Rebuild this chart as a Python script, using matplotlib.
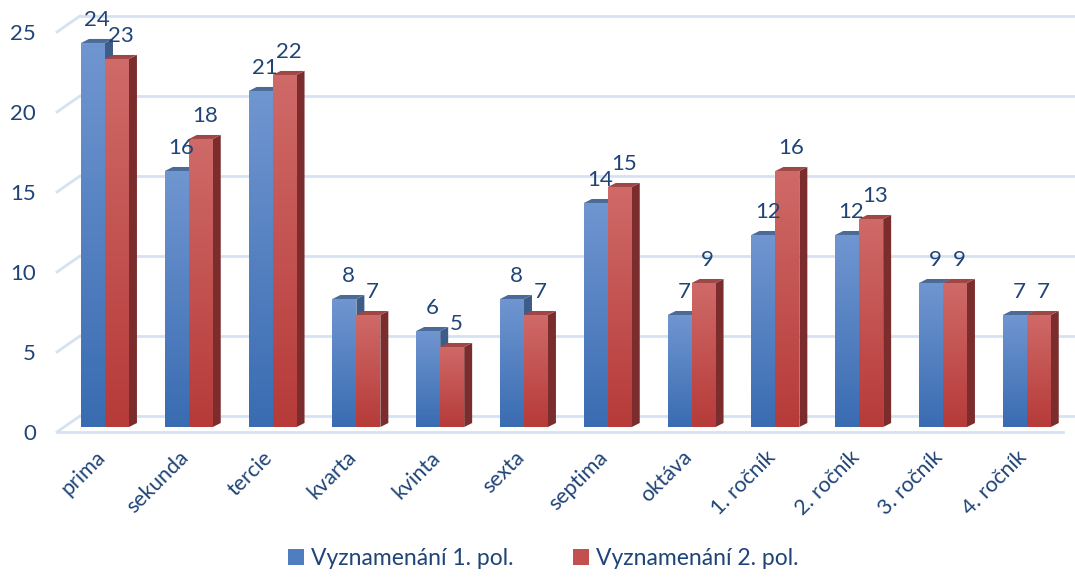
"""Vyznamenání per class, 1st vs 2nd half-year (Excel-style 3D columns)."""

import matplotlib
matplotlib.use("Agg")
import matplotlib.pyplot as plt
import numpy as np
from matplotlib.patches import Patch, Polygon, Rectangle

# ── data ──────────────────────────────────────────────────────────────────

categories = ["prima", "sekunda", "tercie", "kvarta", "kvinta", "sexta",
              "septima", "oktáva", "1. ročník", "2. ročník", "3. ročník", "4. ročník"]
pol1 = [24, 16, 21, 8, 6, 8, 14, 7, 12, 12, 9, 7]
pol2 = [23, 18, 22, 7, 5, 7, 15, 9, 16, 13, 9, 7]
series_names = ["Vyznamenání 1. pol.", "Vyznamenání 2. pol."]
yticks = [0, 5, 10, 15, 20, 25]

# ── style ─────────────────────────────────────────────────────────────────

plt.rcParams["font.family"] = ["Lato", "DejaVu Sans"]
TEXT = "#1F4477"
GRID = "#D6E2F2"
BLUE = {"top": "#7096D0", "bottom": "#3A6CB2", "cap": "#4A6A9A", "side": "#3E5C88"}
RED = {"top": "#CF6A68", "bottom": "#B63B39", "cap": "#A04644", "side": "#7A2D2C"}

W = 0.286            # bar width (group units)
DX, DY = 0.095, 0.25  # bar depth offset
PDX, PDY = 0.2745, 1.0  # wall depth offset
FRONT = -0.3125      # floor front edge relative to bar front
X0, X1 = -0.573, 11.575

fig = plt.figure(figsize=(10.75, 5.79), dpi=100)
ax = fig.add_axes([57 / 1075, 1 - 432 / 579, 1 - 57 / 1075, (432 - 10) / 579])
ax.set_xlim(X0, X1)
ax.set_ylim(FRONT, 26.06)
for s in ax.spines.values():
    s.set_visible(False)

# ── walls / gridlines ─────────────────────────────────────────────────────

for v in yticks:
    yb = v + FRONT + PDY
    ax.plot([X0 + PDX, X1], [yb, yb], color=GRID, lw=2, zorder=1, clip_on=False)
    ax.plot([X0, X0 + PDX], [v + FRONT, yb], color=GRID, lw=2, zorder=1, clip_on=False)
floor_right = 11.43
ax.plot([X0, floor_right], [FRONT, FRONT], color=GRID, lw=2, zorder=1, clip_on=False)


def gradient_bar(x0, v, cols, z):
    grad = np.linspace(0, 1, 64).reshape(-1, 1)
    c_top = np.array(matplotlib.colors.to_rgb(cols["top"]))
    c_bot = np.array(matplotlib.colors.to_rgb(cols["bottom"]))
    img = c_bot + (c_top - c_bot) * grad[..., None]
    rect = Rectangle((x0, 0), W, v, facecolor="none", edgecolor="none")
    ax.add_patch(rect)
    im = ax.imshow(img, extent=(x0, x0 + W, 0, v), origin="lower",
                   aspect="auto", zorder=z, interpolation="bilinear")
    im.set_clip_path(rect)


def bar3d(x0, v, cols, z):
    x1 = x0 + W
    side = Polygon([(x1, 0), (x1, v), (x1 + DX, v + DY), (x1 + DX, DY)],
                   facecolor=cols["side"], edgecolor="none", zorder=z)
    cap = Polygon([(x0, v), (x1, v), (x1 + DX, v + DY), (x0 + DX, v + DY)],
                  facecolor=cols["cap"], edgecolor="none", zorder=z)
    ax.add_patch(side)
    ax.add_patch(cap)
    gradient_bar(x0, v, cols, z + 0.1)


xs = np.arange(len(categories))
for i, (a, b) in enumerate(zip(pol1, pol2)):
    bar3d(xs[i] - W, a, BLUE, 3)
    bar3d(xs[i], b, RED, 4)
    ax.text(xs[i] - W / 2 + 0.05, a + 0.8, str(a), ha="center", va="bottom",
            fontsize=16, color=TEXT, zorder=6)
    ax.text(xs[i] + W / 2 + 0.05, b + 0.8, str(b), ha="center", va="bottom",
            fontsize=16, color=TEXT, zorder=6)

ax.set_xlim(X0, X1)
ax.set_ylim(FRONT, 26.06)

# ── axes labels ───────────────────────────────────────────────────────────

ax.set_yticks([v + FRONT for v in yticks], [str(v) for v in yticks])
ax.set_xticks(xs - 0.12, categories)
ax.tick_params(axis="y", length=0, pad=15, labelsize=16, labelcolor=TEXT)
ax.tick_params(axis="x", length=0, pad=11, labelsize=15.5, labelcolor=TEXT)
for lab in ax.get_xticklabels():
    lab.set_rotation(45)
    lab.set_ha("right")
    lab.set_va("top")
    lab.set_rotation_mode("anchor")

handles = [Patch(facecolor="#4F7EC0", edgecolor="none"),
           Patch(facecolor="#C2504E", edgecolor="none")]
leg = fig.legend(handles, series_names, loc="lower center", ncol=2,
                 bbox_to_anchor=(0.505, -0.018), frameon=False, fontsize=16.5,
                 handlelength=0.7, handleheight=0.7, handletextpad=0.3,
                 columnspacing=2.6)
for t in leg.get_texts():
    t.set_color(TEXT)

fig.savefig("out.png", dpi=100)
